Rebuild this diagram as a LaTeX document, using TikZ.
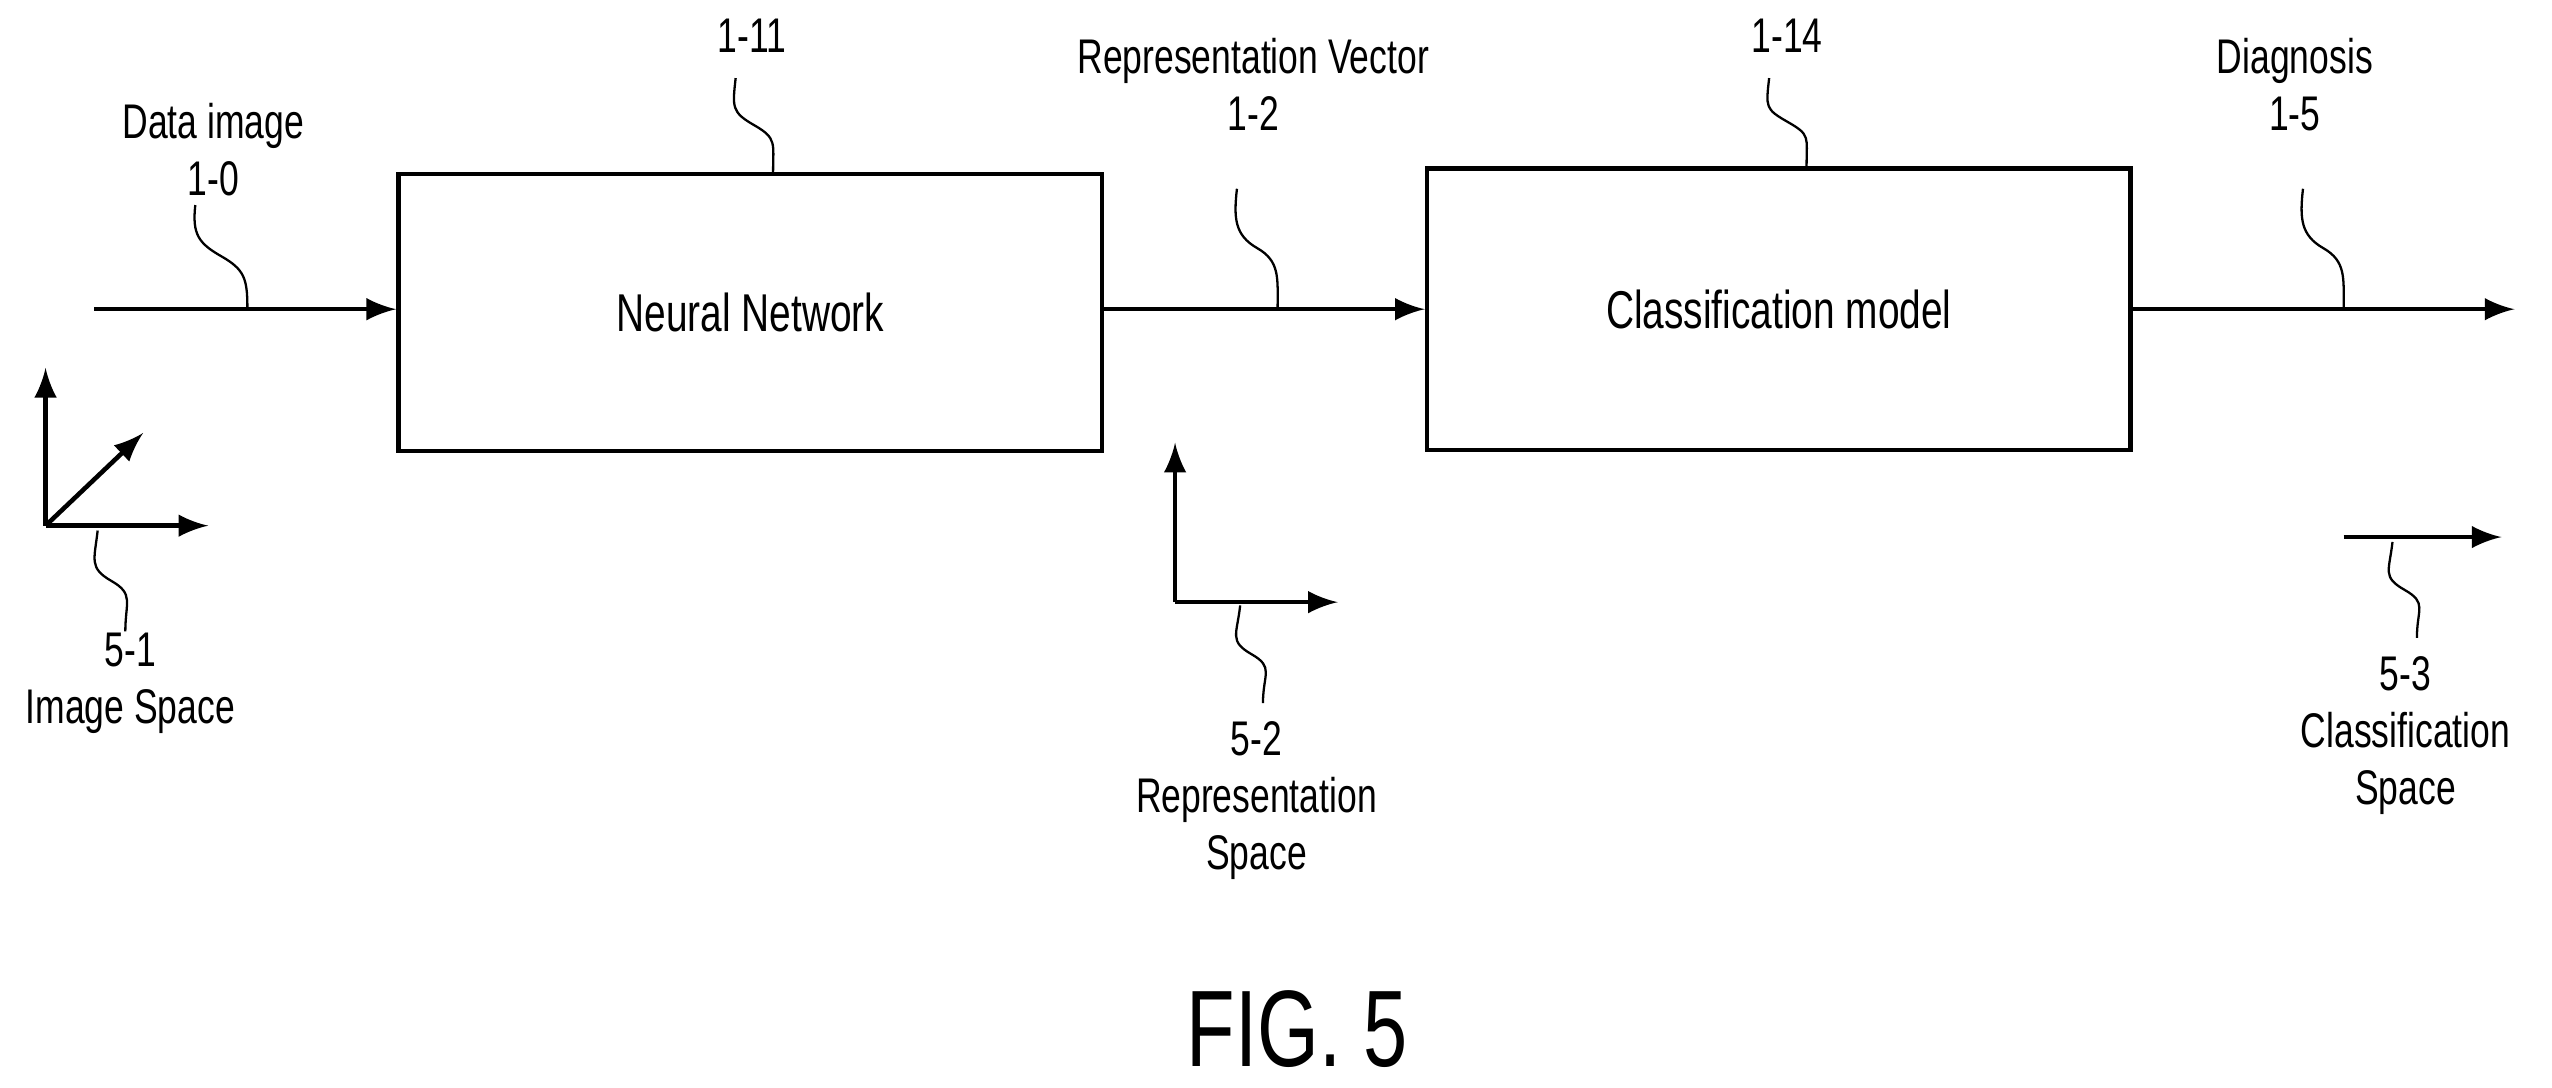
\documentclass[tikz,border=0pt]{standalone}
\usepackage{fontspec}
\setmainfont{Liberation Sans}[FakeStretch=0.73]
\usetikzlibrary{positioning,calc}
\tikzset{
  blk/.style={draw,thick,minimum width=4.32cm,minimum height=1.7cm},
  lbl/.style={align=center,font=\fontsize{8.5}{10}\selectfont,inner sep=0pt},
  flow/.style={thick,-latex},
  lead/.style={thin},
}
\newcommand{\squig}[2]{\draw[lead] (#1) .. controls +(-2,18) and +(-14,-8) .. ($(#1)!0.5!(#2)$) .. controls +(14,8) and +(0,-18) .. (#2);}
\begin{document}
\begin{tikzpicture}[x=0.01cm,y=-0.01cm]
\useasboundingbox (0,0) rectangle (1568,668);
% blocks
\node[blk] (nn) at (461,192) {\fontsize{9.3}{11}\selectfont Neural Network};
\node[blk,minimum height=1.73cm] (cm) at (1093,190) {\fontsize{9.3}{11}\selectfont Classification model};
\coordinate (in) at (58,190);
\coordinate (out) at (1545,190);
\draw[flow] (in) -- (nn.west|-in);
\draw[flow] (nn.east|-in) -- (cm.west|-in);
\draw[flow] (cm.east|-in) -- (out);
% labels
\node[lbl] (d0) at (131,92) {Data image\\1-0};
\node[lbl] (n11) at (462,22) {1-11};
\node[lbl] (rv) at (770,52) {Representation Vector\\1-2};
\node[lbl] (n14) at (1098,22) {1-14};
\node[lbl] (dg) at (1410,52) {Diagnosis\\1-5};
\squig{120,126}{152,189}
\squig{452,48}{475,106}
\squig{760,116}{785,189}
\squig{1087,48}{1110,102}
\squig{1415,116}{1440,189}
% spaces
\coordinate (o1) at (28,323);
\draw[flow] (o1) -- +(0,-97);
\draw[flow] (o1) -- +(100,0);
\draw[flow] (o1) -- +(60,-57);
\coordinate (o2) at (722,370);
\draw[flow] (o2) -- +(0,-98);
\draw[flow] (o2) -- +(100,0);
\coordinate (o3) at (1440,330);
\draw[flow] (o3) -- +(97,0);
\squig{60,326}{77,388}
\squig{762,372}{776,432}
\squig{1470,333}{1485,392}
\node[lbl] (s1) at (80,420) {5-1\\Image Space};
\node[lbl] (s2) at (772,492) {5-2\\Representation\\Space};
\node[lbl] (s3) at (1478,452) {5-3\\Classification\\Space};
\node[lbl,font=\fontsize{19}{20}\selectfont] (fig) at (797,632) {FIG. 5};
\end{tikzpicture}
\end{document}
